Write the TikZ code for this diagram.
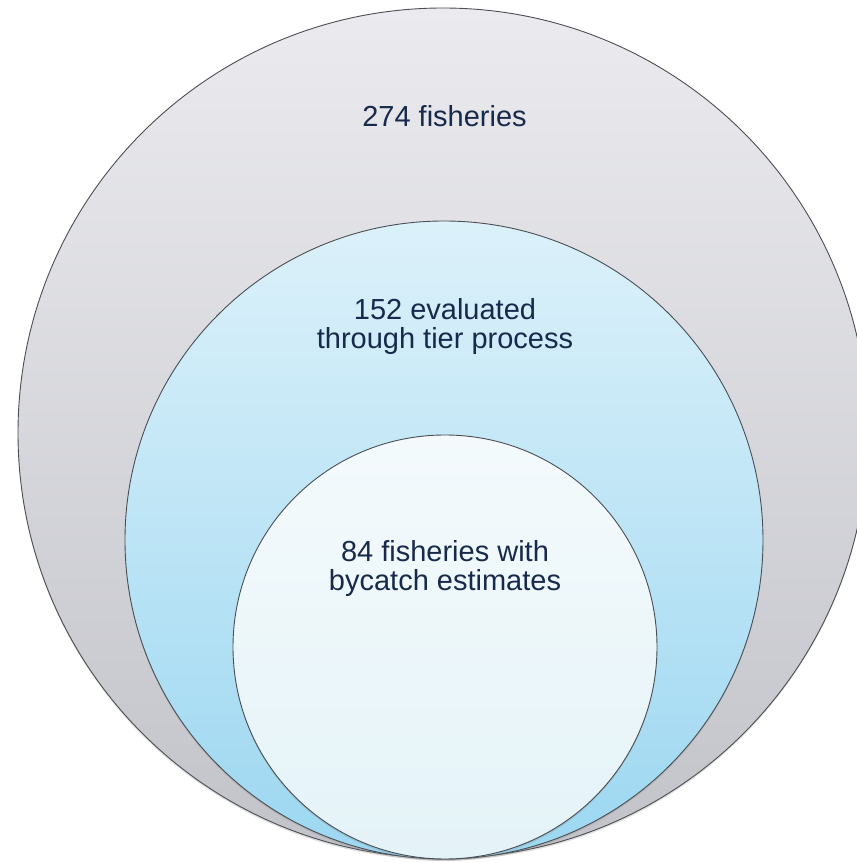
\documentclass[tikz,border=0pt]{standalone}
\usepackage{fontspec}
\setmainfont{Liberation Sans}
\usetikzlibrary{shadows}
\definecolor{txt}{HTML}{182A4C}
\definecolor{edge}{HTML}{4A4E55}
\definecolor{outtop}{HTML}{EBEBEF}
\definecolor{outbot}{HTML}{C2C3C9}
\definecolor{midtop}{HTML}{DCF1FA}
\definecolor{midbot}{HTML}{9CD7F1}
\definecolor{intop}{HTML}{F4FAFC}
\definecolor{inbot}{HTML}{E4F3F8}
\tikzset{
  ring/.style={circle, draw=edge, line width=0.9pt, inner sep=0pt, outer sep=0pt,
    drop shadow={opacity=0.25, shadow xshift=0pt, shadow yshift=-2pt}},
  lbl/.style={text=txt, font=\fontsize{29}{29}\selectfont, align=center, inner sep=0pt}
}
\begin{document}
\begin{tikzpicture}[x=1pt,y=1pt]
\useasboundingbox (0,0) rectangle (857,863);
\clip (0,0) rectangle (857,863);
\node[ring, minimum size=850pt, top color=outtop, bottom color=outbot] (outer) at (443,430) {};
\node[ring, minimum size=638pt, top color=midtop, bottom color=midbot] (middle) at (444,323) {};
\node[ring, minimum size=424pt, top color=intop, bottom color=inbot] (inner) at (445,216) {};
\node[lbl, anchor=base] (t1) at (444.5,736) {274 fisheries};
\node[lbl] (t2) at (445,536) {152 evaluated\\through tier process};
\node[lbl] (t3) at (445,294) {84 fisheries with\\bycatch estimates};
\end{tikzpicture}
\end{document}
